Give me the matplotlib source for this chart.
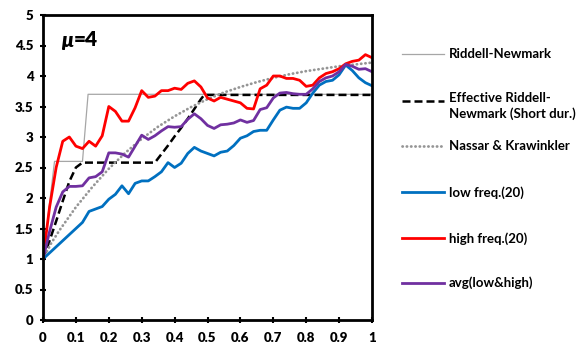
import numpy as np
import matplotlib
matplotlib.use("Agg")
import matplotlib.pyplot as plt
from matplotlib.lines import Line2D

plt.rcParams["font.family"] = ["Lato", "DejaVu Sans"]
plt.rcParams["font.weight"] = "bold"

W, H = 584, 347

# ---- data ----
period = np.linspace(0, 1, 51)

low_freq = [1.0, 1.1, 1.2, 1.3, 1.4, 1.5, 1.6, 1.78, 1.82, 1.86, 1.98, 2.06, 2.2, 2.07, 2.24,
            2.28, 2.28, 2.35, 2.43, 2.58, 2.50, 2.57, 2.73, 2.83, 2.77, 2.73, 2.69, 2.75, 2.77,
            2.86, 2.98, 3.02, 3.09, 3.11, 3.11, 3.28, 3.44, 3.49, 3.47, 3.47, 3.56, 3.72, 3.85,
            3.91, 3.93, 4.02, 4.18, 4.09, 3.97, 3.89, 3.84]

high_freq = [1.0, 1.85, 2.5, 2.93, 3.0, 2.85, 2.81, 2.93, 2.85, 3.02, 3.5, 3.42, 3.26, 3.26,
             3.48, 3.76, 3.65, 3.67, 3.76, 3.76, 3.80, 3.78, 3.88, 3.92, 3.82, 3.64, 3.59, 3.65,
             3.62, 3.59, 3.56, 3.47, 3.46, 3.79, 3.85, 4.0, 4.0, 3.96, 3.96, 3.93, 3.83, 3.85,
             3.97, 4.04, 4.07, 4.12, 4.20, 4.24, 4.26, 4.35, 4.30]

avg_low_high = [1.0, 1.45, 1.85, 2.1, 2.19, 2.19, 2.2, 2.33, 2.35, 2.43, 2.74, 2.74, 2.72, 2.67,
                2.85, 3.03, 2.96, 3.02, 3.1, 3.17, 3.16, 3.17, 3.29, 3.38, 3.3, 3.19, 3.14, 3.2,
                3.21, 3.23, 3.28, 3.24, 3.27, 3.45, 3.48, 3.64, 3.72, 3.73, 3.71, 3.70, 3.70,
                3.79, 3.91, 3.97, 4.0, 4.07, 4.19, 4.16, 4.11, 4.12, 4.07]

rn_x = [0, 0.035, 0.12, 0.137, 1.0]
rn_y = [1.0, 2.6, 2.6, 3.7, 3.7]

eff_x = [0, 0.02, 0.04, 0.06, 0.08, 0.10, 0.12, 0.34, 0.36, 0.38, 0.40, 0.42, 0.44, 0.46,
         0.48, 0.49, 1.0]
eff_y = [1.0, 1.3, 1.62, 1.95, 2.27, 2.5, 2.58, 2.58, 2.72, 2.86, 3.01, 3.15, 3.3, 3.46,
         3.62, 3.69, 3.69]

nk_x = [0, 0.025, 0.05, 0.1, 0.15, 0.2, 0.25, 0.3, 0.35, 0.4, 0.45, 0.5, 0.55, 0.6, 0.65,
        0.7, 0.75, 0.8, 0.85, 0.9, 0.95, 1.0]
nk_y = [1.0, 1.26, 1.47, 1.85, 2.18, 2.48, 2.74, 2.97, 3.17, 3.34, 3.49, 3.62, 3.73, 3.82,
        3.90, 3.97, 4.03, 4.08, 4.12, 4.16, 4.19, 4.22]

labels = ["Riddell-Newmark", "Effective Riddell-\nNewmark (Short dur.)",
          "Nassar & Krawinkler", "low freq.(20)", "high freq.(20)", "avg(low&high)"]

# ---- styles ----
styles = [
    dict(color="#A6A6A6", lw=0.9, linestyle="-"),
    dict(color="black", lw=1.8, linestyle=(0, (3.2, 1.6))),
    dict(color="#959595", lw=2.0, linestyle=(0, (0.1, 1.45)), dash_capstyle="round"),
    dict(color="#0070C0", lw=2.0, linestyle="-"),
    dict(color="#FF0000", lw=2.0, linestyle="-"),
    dict(color="#7030A0", lw=2.0, linestyle="-"),
]

fig = plt.figure(figsize=(W / 100, H / 100), dpi=100)
ax = fig.add_axes([43 / W, 1 - 320 / H, (372 - 43) / W, (320 - 15) / H])

series = [(rn_x, rn_y), (eff_x, eff_y), (nk_x, nk_y),
          (period, low_freq), (period, high_freq), (period, avg_low_high)]
for (xs, ys), st in zip(series, styles):
    ax.plot(xs, ys, solid_joinstyle="round", **st)

ax.set_xlim(0, 1)
ax.set_ylim(0, 5)
ax.set_xticks(np.arange(0, 1.01, 0.1))
ax.set_xticklabels(["0", "0.1", "0.2", "0.3", "0.4", "0.5", "0.6", "0.7", "0.8", "0.9", "1"])
ax.set_yticks(np.arange(0, 5.01, 0.5))
ax.set_yticklabels(["0", "0.5", "1", "1.5", "2", "2.5", "3", "3.5", "4", "4.5", "5"])
for s in ax.spines.values():
    s.set_linewidth(2.0)
ax.tick_params(direction="inout", length=5, width=1.5, labelsize=9.5)
ax.tick_params(axis="y", pad=4.5)
ax.tick_params(axis="x", pad=6)
for lab in ax.get_xticklabels() + ax.get_yticklabels():
    lab.set_fontweight("heavy")


def fpos(x, y):
    return x / W, 1 - y / H


# ductility label
fig.text(*fpos(61, 46.5), "\u03bc", fontsize=15, fontweight="heavy", style="italic",
         va="baseline", ha="left")
fig.text(*fpos(74, 46.5), "=4", fontsize=15, fontweight="heavy", va="baseline", ha="left")

# legend drawn beside the axes
rows = [53.5, 100.5, 146, 192.3, 238.3, 282.7]
for lab, st, yc in zip(labels, styles, rows):
    x0, y0 = fpos(402, yc)
    x1, _ = fpos(444, yc)
    fig.add_artist(Line2D([x0, x1], [y0, y0], transform=fig.transFigure, **st))
    if "\n" in lab:
        fig.text(*fpos(449, yc - 8), lab, fontsize=9.5, fontweight="bold",
                 va="top", ha="left", linespacing=1.3)
    else:
        fig.text(*fpos(449, yc), lab, fontsize=9.5, fontweight="bold",
                 va="center", ha="left")

fig.savefig("out.png", dpi=100)
